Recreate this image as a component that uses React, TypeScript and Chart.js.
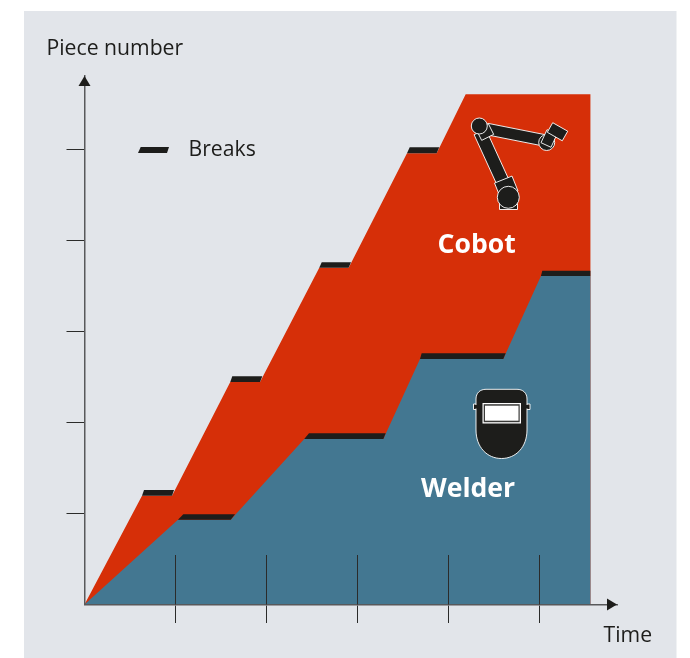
import React, { useEffect, useRef } from "react";
import { Chart, registerables } from "chart.js";

Chart.register(...registerables);

const xTickValues = [1, 2, 3, 4, 5];
const yTickValues = [1, 2, 3, 4, 5];
const xAxisMax = 5.852;
const yAxisMax = 5.808;

// Outline of the cobot area
const cobotTime = [0, 0.632, 0.962, 1.602, 1.929, 2.58, 2.903, 3.544, 3.87, 4.189, 5.56, 5.56];
const cobotPieces = [0, 1.196, 1.196, 2.445, 2.445, 3.701, 3.701, 4.958, 4.958, 5.607, 5.607, 0];

// Outline of the welder area
const welderTime = [0, 1.027, 1.607, 2.415, 3.284, 3.687, 4.602, 5.016, 5.56, 5.56];
const welderPieces = [0, 0.932, 0.932, 1.819, 1.819, 2.698, 2.698, 3.61, 3.61, 0];

// Breaks: each one is a slanted band [top-left, top-right, bottom-right, bottom-left]
const breakTimes = [
  [0.654, 0.984, 0.962, 0.632],
  [1.624, 1.954, 1.929, 1.602],
  [2.607, 2.929, 2.903, 2.58],
  [3.574, 3.899, 3.87, 3.544],
  [1.086, 1.654, 1.607, 1.027],
  [2.467, 3.31, 3.284, 2.415],
  [3.705, 4.629, 4.602, 3.687],
  [5.031, 5.56, 5.56, 5.016],
];
const breakPieces = [
  [1.258, 1.258, 1.196, 1.196],
  [2.508, 2.508, 2.445, 2.445],
  [3.76, 3.76, 3.701, 3.701],
  [5.024, 5.024, 4.958, 4.958],
  [0.991, 0.991, 0.932, 0.932],
  [1.881, 1.881, 1.819, 1.819],
  [2.76, 2.76, 2.698, 2.698],
  [3.668, 3.668, 3.61, 3.61],
];

const yAxisLabel = "Piece number";
const xAxisLabel = "Time";
const breaksLabel = "Breaks";
const cobotLabel = "Cobot";
const welderLabel = "Welder";

const RED = "#D62F08";
const BLUE = "#437791";
const DARK = "#1D1D1B";
const PANEL = "#E2E5EA";
const AXIS = "#58595B";
const FONT = '"Open Sans"';

const zip = (xs: number[], ys: number[]) => xs.map((x, i) => ({ x, y: ys[i] }));

const shape = (label: string, data: { x: number; y: number }[], color: string, order: number) => ({
  label,
  data,
  order,
  backgroundColor: color,
  borderWidth: 0,
  pointRadius: 0,
  tension: 0,
  fill: "shape",
  clip: false,
});

function outlined(ctx: CanvasRenderingContext2D, path: () => void) {
  ctx.beginPath();
  path();
  ctx.closePath();
  ctx.fillStyle = DARK;
  ctx.strokeStyle = "rgba(255,255,255,0.9)";
  ctx.lineWidth = 1;
  ctx.fill();
  ctx.stroke();
}

function drawRobot(ctx: CanvasRenderingContext2D) {
  const bar = (x1: number, y1: number, x2: number, y2: number, w: number) => {
    const a = Math.atan2(y2 - y1, x2 - x1);
    const nx = (-Math.sin(a) * w) / 2;
    const ny = (Math.cos(a) * w) / 2;
    outlined(ctx, () => {
      ctx.moveTo(x1 + nx, y1 + ny);
      ctx.lineTo(x2 + nx, y2 + ny);
      ctx.lineTo(x2 - nx, y2 - ny);
      ctx.lineTo(x1 - nx, y1 - ny);
    });
  };
  // base plate
  outlined(ctx, () => ctx.rect(499.5, 198, 18, 11.5));
  // upper arm
  bar(487, 129, 545, 140.5, 11.5);
  // fore arm
  bar(480, 132, 506, 189, 13);
  // shoulder collar
  bar(479, 135, 491, 129, 12);
  // base collar
  bar(497.5, 190.5, 515, 183.5, 16);
  outlined(ctx, () => ctx.arc(508.3, 197.3, 11, 0, Math.PI * 2));
  // wrist
  outlined(ctx, () => ctx.arc(546.7, 142.5, 8, 0, Math.PI * 2));
  bar(546, 145, 552, 132, 11);
  // tool
  bar(550, 127.5, 565, 136, 11);
  // shoulder joint
  outlined(ctx, () => ctx.arc(479.3, 126, 8, 0, Math.PI * 2));
}

function drawHelmet(ctx: CanvasRenderingContext2D) {
  outlined(ctx, () => ctx.rect(473.5, 404, 56.5, 5.5));
  outlined(ctx, () => {
    ctx.moveTo(476, 430);
    ctx.lineTo(476, 399);
    ctx.bezierCurveTo(476, 393, 480, 389.3, 486, 389.3);
    ctx.lineTo(517, 389.3);
    ctx.bezierCurveTo(523, 389.3, 527, 393, 527, 399);
    ctx.lineTo(527, 430);
    ctx.bezierCurveTo(527, 447, 516, 458.5, 501.5, 458.5);
    ctx.bezierCurveTo(487, 458.5, 476, 447, 476, 430);
  });
  ctx.fillStyle = DARK;
  ctx.fillRect(474.5, 405, 54.5, 3.5);
  ctx.fillStyle = "#FFFFFF";
  ctx.fillRect(482.5, 403, 38.5, 20.5);
  ctx.fillStyle = "#3A3A38";
  ctx.fillRect(483.7, 404.2, 36, 18);
  ctx.fillStyle = "#FFFFFF";
  ctx.fillRect(485, 405.7, 33.5, 15);
}

const decorations = {
  id: "decorations",
  beforeDraw(chart: any) {
    const { ctx } = chart;
    ctx.save();
    ctx.fillStyle = "#FFFFFF";
    ctx.fillRect(0, 0, 690, 658);
    ctx.fillStyle = PANEL;
    ctx.fillRect(24, 11, 652.5, 647);
    ctx.restore();
  },
  afterDraw(chart: any) {
    const { ctx, scales, chartArea } = chart;
    const ox = scales.x.getPixelForValue(0);
    const oy = scales.y.getPixelForValue(0);
    ctx.save();

    // x ticks carry on above the axis
    ctx.strokeStyle = "#2B2B2A";
    ctx.lineWidth = 1;
    xTickValues.forEach((v) => {
      const px = Math.round(scales.x.getPixelForValue(v)) + 0.5;
      ctx.beginPath();
      ctx.moveTo(px, oy - 49.5);
      ctx.lineTo(px, oy);
      ctx.stroke();
    });

    // arrow heads
    ctx.fillStyle = DARK;
    ctx.beginPath();
    ctx.moveTo(ox, chartArea.top);
    ctx.lineTo(ox + 6, chartArea.top + 10);
    ctx.lineTo(ox - 6, chartArea.top + 10);
    ctx.closePath();
    ctx.fill();
    ctx.beginPath();
    ctx.moveTo(chartArea.right, oy);
    ctx.lineTo(chartArea.right - 10, oy + 6);
    ctx.lineTo(chartArea.right - 10, oy - 6);
    ctx.closePath();
    ctx.fill();

    // legend swatch
    ctx.fillStyle = DARK;
    ctx.beginPath();
    ctx.moveTo(140.7, 147);
    ctx.lineTo(169, 147);
    ctx.lineTo(167, 153);
    ctx.lineTo(138, 153);
    ctx.closePath();
    ctx.fill();

    drawRobot(ctx);
    drawHelmet(ctx);

    // texts
    ctx.textBaseline = "alphabetic";
    ctx.textAlign = "left";
    ctx.fillStyle = "#1D1D1B";
    ctx.font = `21.2px ${FONT}`;
    ctx.fillText(yAxisLabel, 46.5, 55);
    ctx.fillText(breaksLabel, 188.5, 156);
    ctx.fillText(xAxisLabel, 603.5, 642);
    ctx.fillStyle = "#FFFFFF";
    ctx.font = `bold 26.6px ${FONT}`;
    ctx.fillText(cobotLabel, 437.5, 253);
    ctx.fillText(welderLabel, 421, 497);
    ctx.restore();
  },
};

export default function App() {
  const ref = useRef<HTMLCanvasElement>(null);
  useEffect(() => {
    if (!ref.current) return;
    const chart = new Chart(ref.current, {
      type: "line",
      data: {
        datasets: [
          ...breakTimes.map((xs, i) => shape(`Break ${i + 1}`, zip(xs, breakPieces[i]), DARK, 0)),
          shape("Welder", zip(welderTime, welderPieces), BLUE, 1),
          shape("Cobot", zip(cobotTime, cobotPieces), RED, 2),
        ],
      },
      options: {
        responsive: false,
        animation: false,
        events: [],
        layout: { padding: { left: 66, right: 73, top: 76, bottom: 35 } },
        plugins: { legend: { display: false }, tooltip: { enabled: false }, title: { display: false } },
        scales: {
          x: {
            type: "linear",
            min: 0,
            max: xAxisMax,
            afterBuildTicks: (s: any) => {
              s.ticks = xTickValues.map((value) => ({ value }));
            },
            afterFit: (s: any) => {
              s.height = 18.5;
            },
            ticks: { display: false, autoSkip: false },
            grid: { drawOnChartArea: false, tickLength: 18.5, tickColor: "#2B2B2A", lineWidth: 1, z: 1 },
            border: { color: AXIS, width: 1.5, z: 1 },
          },
          y: {
            type: "linear",
            min: 0,
            max: yAxisMax,
            afterBuildTicks: (s: any) => {
              s.ticks = yTickValues.map((value) => ({ value }));
            },
            afterFit: (s: any) => {
              s.width = 18.5;
            },
            ticks: { display: false, autoSkip: false },
            grid: { drawOnChartArea: false, tickLength: 18, tickColor: "#2B2B2A", lineWidth: 1, z: 1 },
            border: { color: AXIS, width: 1.5, z: 1 },
          },
        },
      },
      plugins: [decorations],
    } as any);
    return () => chart.destroy();
  }, []);
  return (
    <div style={{ position: "absolute", left: 0, top: 0, width: 690, height: 658 }}>
      <canvas ref={ref} width={690} height={658} style={{ display: "block", width: 690, height: 658 }} />
    </div>
  );
}
